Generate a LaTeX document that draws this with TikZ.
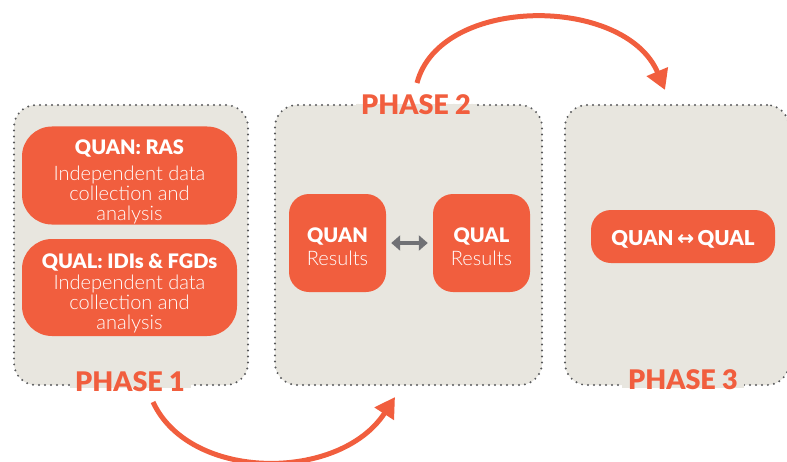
\documentclass[tikz,border=0pt]{standalone}
\usepackage{fontspec}
\setmainfont{Lato}
\newfontfamily\latoblack{Lato Black}
\newfontfamily\latolight{Lato Light}
\newfontfamily\dejavu{DejaVu Sans}
\usetikzlibrary{arrows.meta}
\definecolor{orng}{HTML}{F15E3E}
\definecolor{pnl}{HTML}{E8E6DF}
\definecolor{dotc}{HTML}{58595B}
\definecolor{arrg}{HTML}{707175}
\newcommand{\hd}[1]{{\latoblack\fontsize{20}{22}\selectfont #1}}
\newcommand{\lift}[1]{\rule{0pt}{#1}}
\tikzset{
 panel/.style={draw=dotc, fill=pnl, line width=2.2pt, dash pattern=on 0pt off 6pt, line cap=round, rounded corners=22pt, inner sep=0pt},
 obox/.style={fill=orng, text=white, align=center, inner sep=0pt, font=\latolight\fontsize{20}{20}\selectfont},
 phase/.style={text=orng, font=\latoblack\fontsize{27}{30}\selectfont, inner sep=0pt},
 cover/.style={fill=pnl},
 curvearr/.style={draw=orng, line width=5pt, -{Triangle[length=20pt,width=22pt]}},
 grayarr/.style={draw=arrg, line width=4.5pt, {Triangle[length=9pt,width=15pt]}-{Triangle[length=9pt,width=15pt]}, shorten <=5pt, shorten >=5pt},
}
\begin{document}
\begin{tikzpicture}[x=1pt,y=-1pt]
\useasboundingbox (0,0) rectangle (787,461);
% panels
\node[panel, minimum width=234pt, minimum height=280pt] (p1) at (131,245) {};
\node[panel, minimum width=267pt, minimum height=280pt] (p2) at (408.5,245) {};
\node[panel, minimum width=224pt, minimum height=280pt] (p3) at (677,245) {};
% covers under the phase labels
\fill[cover] (70,371) rectangle (191,388);
\fill[cover] (356,103.5) rectangle (477,116);
\fill[cover] (622,369) rectangle (744,388);
% phase labels
\node[phase] (ph1) at (130,382) {PHASE 1};
\node[phase] (ph2) at (416,105) {PHASE 2};
\node[phase] (ph3) at (683,380) {PHASE 3};
% phase 1 boxes
\node[obox, minimum width=215pt, minimum height=97pt, rounded corners=30pt] (b1) at (129.5,175.5)
 {\lift{28.5pt}\hd{QUAN: RAS}\\[6pt]Independent data\\collection and\\analysis};
\node[obox, minimum width=215pt, minimum height=97pt, rounded corners=30pt] (b2) at (129.5,287.5)
 {\lift{26.5pt}\hd{QUAL: IDIs \& FGDs}\\[1pt]Independent data\\collection and\\analysis};
% phase 2 boxes
\node[obox, minimum width=97pt, minimum height=98pt, rounded corners=20pt] (r1) at (337.5,243)
 {\lift{21.5pt}\hd{QUAN}\\[3pt]Results};
\node[obox, minimum width=97pt, minimum height=98pt, rounded corners=20pt] (r2) at (481.5,243)
 {\lift{21.5pt}\hd{QUAL}\\[3pt]Results};
\draw[grayarr] (r1) -- (r2);
% phase 3 box
\node[obox, minimum width=184pt, minimum height=53pt, rounded corners=20pt] (b3) at (683,236.5)
 {\lift{20.5pt}\latoblack\fontsize{20.5}{22}\selectfont QUAN\,{\dejavu\bfseries ↔}\,QUAL};
% curved arrows
\coordinate (s1) at (153,402);
\coordinate (e1) at (395,397);
\coordinate (s2) at (417,83);
\coordinate (e2) at (665,90);
\draw[curvearr] (s1) .. controls (190,482) and (340,482) .. (e1);
\draw[curvearr] (s2) .. controls (440,-5) and (625,-5) .. (e2);
\end{tikzpicture}
\end{document}
